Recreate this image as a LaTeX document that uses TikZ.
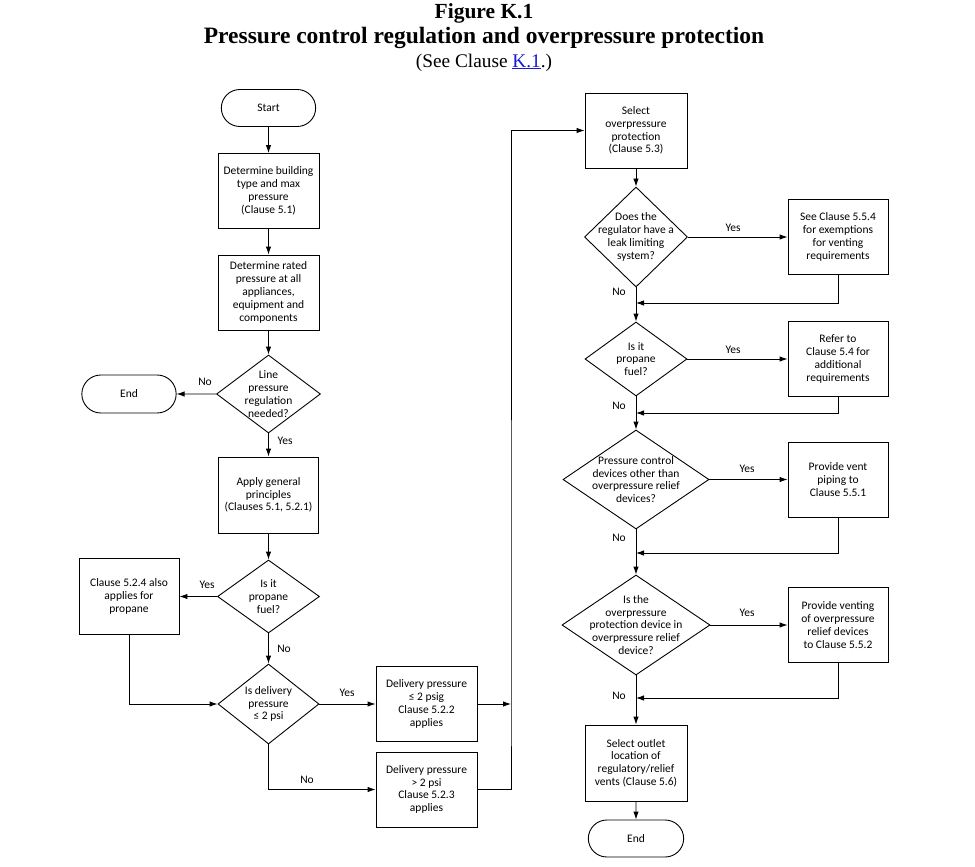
\documentclass[tikz,border=0pt]{standalone}
\usepackage{fontspec}
\setmainfont{Carlito}
\newfontfamily\headfont{Liberation Serif}
\usepackage{xcolor}
\usepackage{tikz}
\usetikzlibrary{arrows.meta,shapes.geometric,shapes.misc,positioning}
\tikzset{>={Latex[length=8pt,width=5.5pt]}}
\definecolor{linkblue}{RGB}{25,25,205}

\tikzset{
  flow/.style={font=\fontsize{11.5}{12.8}\selectfont, align=center},
  procbox/.style={flow, draw, rectangle, minimum width=101pt, minimum height=75pt, inner sep=2pt},
  termbox/.style={flow, draw, rounded rectangle, minimum width=101pt, minimum height=37pt},
  decide/.style={draw, diamond, inner sep=0pt},
  answer/.style={flow, inner sep=1pt},
}

\begin{document}
\begin{tikzpicture}[x=1pt, y=-1pt, line width=0.9pt]
\useasboundingbox (0,0) rectangle (975,867);

% title
\node[anchor=base] (fig) at (484,19) {\headfont\bfseries\fontsize{21.5}{24}\selectfont Figure K.1};
\node[anchor=base] (ttl) at (484,44) {\headfont\bfseries\fontsize{23.5}{26}\selectfont Pressure control regulation and overpressure protection};
\node[anchor=base] (see) at (484,67) {\headfont\fontsize{19.3}{22}\selectfont (See Clause \textcolor{linkblue}{\underline{K.1}}.)};

% left column
\node[termbox] (start) at (268.5,108) {Start};
\node[procbox] (build) at (268.5,191) {Determine building\\type and max\\pressure\\(Clause 5.1)};
\node[procbox] (rated) at (268.5,292.5) {Determine rated\\pressure at all\\appliances,\\equipment and\\components};
\node[decide, minimum width=104pt, minimum height=78pt,
      label={[flow]center:{Line\\pressure\\regulation\\needed?}}] (lineq) at (268.5,394) {};
\node[termbox, minimum height=38pt] (endl) at (129,394) {End};
\node[procbox, minimum width=100pt, minimum height=76pt] (general) at (268.5,495) {Apply general\\principles\\(Clauses 5.1, 5.2.1)};
\node[decide, minimum width=102pt, minimum height=73pt,
      label={[flow]center:{Is it\\propane\\fuel?}}] (propq) at (268.5,596.5) {};
\node[procbox, minimum width=100pt, minimum height=76pt] (alsoprop) at (129,596.5) {Clause 5.2.4 also\\applies for\\propane};
\node[decide, minimum width=101pt, minimum height=80pt,
      label={[flow]center:{Is delivery\\pressure\\≤ 2 psi}}] (delq) at (268.5,704) {};
\node[procbox] (low) at (426.5,704) {Delivery pressure\\≤ 2 psig\\Clause 5.2.2\\applies};
\node[procbox] (high) at (426.5,789.5) {Delivery pressure\\> 2 psi\\Clause 5.2.3\\applies};
\coordinate (bus) at (511,704);

% right column
\node[procbox, minimum width=102pt] (select) at (636,130.5) {Select\\overpressure\\protection\\(Clause 5.3)};
\node[decide, minimum width=103pt, minimum height=100pt,
      label={[flow]center:{Does the\\regulator have a\\leak limiting\\system?}}] (leakq) at (636,237) {};
\node[procbox, minimum width=100pt] (exempt) at (838,237) {See Clause 5.5.4\\for exemptions\\for venting\\requirements};
\node[decide, minimum width=102pt, minimum height=74pt,
      label={[flow]center:{Is it\\propane\\fuel?}}] (propq2) at (636,359) {};
\node[procbox, minimum width=100pt] (refer) at (838,359) {Refer to\\Clause 5.4 for\\additional\\requirements};
\node[decide, minimum width=146pt, minimum height=99pt,
      label={[flow]center:{Pressure control\\devices other than\\overpressure relief\\devices?}}] (ctrlq) at (636,479.5) {};
\node[procbox, minimum width=100pt] (piping) at (838,479.5) {Provide vent\\piping to\\Clause 5.5.1};
\node[decide, minimum width=148pt, minimum height=100pt,
      label={[flow]center:{Is the\\overpressure\\protection device in\\overpressure relief\\device?}}] (reliefq) at (636,625) {};
\node[procbox, minimum width=100pt] (venting) at (838,625) {Provide venting\\of overpressure\\relief devices\\to Clause 5.5.2};
\node[procbox, minimum width=102pt, minimum height=76pt] (outlet) at (636,763) {Select outlet\\location of\\regulatory/relief\\vents (Clause 5.6)};
\node[termbox, minimum width=102pt] (endr) at (636,838.5) {End};

\coordinate (m1) at (636,303);
\coordinate (m2) at (636,413);
\coordinate (m3) at (636,553);
\coordinate (m4) at (636,698);

% answers
\node[answer] (a1) at (205,382) {No};
\node[answer] (a2) at (285,441) {Yes};
\node[answer] (a3) at (207,585) {Yes};
\node[answer] (a4) at (284,649) {No};
\node[answer] (a5) at (347,693) {Yes};
\node[answer] (a6) at (307,780) {No};
\node[answer] (a7) at (733,228) {Yes};
\node[answer] (a8) at (619,292) {No};
\node[answer] (a9) at (733,350) {Yes};
\node[answer] (a10) at (619,406) {No};
\node[answer] (a11) at (747,469) {Yes};
\node[answer] (a12) at (619,538) {No};
\node[answer] (a13) at (747,613) {Yes};
\node[answer] (a14) at (619,696) {No};

% connectors, left
\draw[->] (start) -- (build);
\draw[->] (build) -- (rated);
\draw[->] (rated) -- (lineq);
\draw[->] (lineq) -- (endl);
\draw[->] (lineq) -- (general);
\draw[->] (general) -- (propq);
\draw[->] (propq) -- (alsoprop);
\draw[->] (propq) -- (delq);
\draw[->] (alsoprop) |- (delq);
\draw[->] (delq) -- (low);
\draw[->] (delq) |- (high);
\draw[->] (low) -- (bus);
\draw[->] (high) -| (bus) |- (select);

% connectors, right
\draw[->] (select) -- (leakq);
\draw[->] (leakq) -- (exempt);
\draw[->] (leakq) -- (propq2);
\draw[->] (exempt) |- (m1);
\draw[->] (propq2) -- (refer);
\draw[->] (propq2) -- (ctrlq);
\draw[->] (refer) |- (m2);
\draw[->] (ctrlq) -- (piping);
\draw[->] (ctrlq) -- (reliefq);
\draw[->] (piping) |- (m3);
\draw[->] (reliefq) -- (venting);
\draw[->] (reliefq) -- (outlet);
\draw[->] (venting) |- (m4);
\draw[->] (outlet) -- (endr);
\end{tikzpicture}
\end{document}
